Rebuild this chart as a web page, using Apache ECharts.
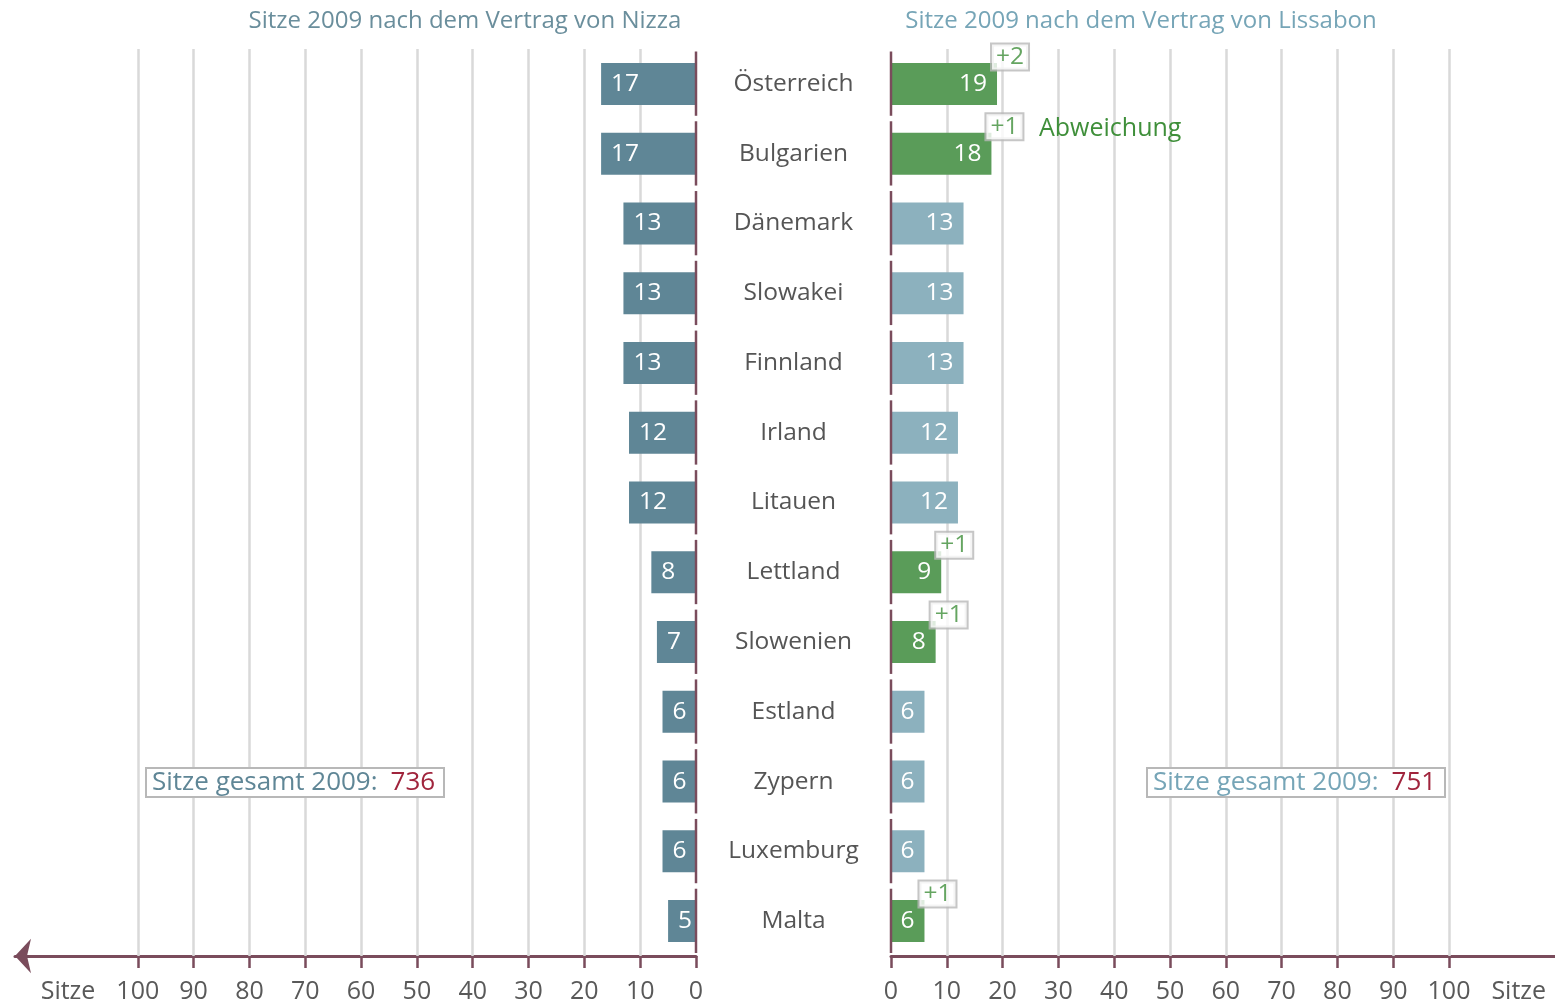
<!DOCTYPE html>
<html>
<head>
<meta charset="utf-8">
<script src="https://cdn.jsdelivr.net/npm/echarts@6/dist/echarts.min.js"></script>
<style>
html,body{margin:0;padding:0;background:#fff;}
#chart{width:1555px;height:1005px;}
</style>
</head>
<body>
<div id="chart"></div>
<script>
const categories = ['Österreich','Bulgarien','Dänemark','Slowakei','Finnland','Irland','Litauen','Lettland','Slowenien','Estland','Zypern','Luxemburg','Malta'];
const nizza = [17,17,13,13,13,12,12,8,7,6,6,6,5];
const lissabon = [19,18,13,13,13,12,12,9,8,6,6,6,6];
const tickValues = [0,10,20,30,40,50,60,70,80,90,100];
const gridValues = [10,20,30,40,50,60,70,80,90,100];
const axisName = 'Sitze';
const titleLeft = 'Sitze 2009 nach dem Vertrag von Nizza';
const titleRight = 'Sitze 2009 nach dem Vertrag von Lissabon';
const totalLabel = 'Sitze gesamt 2009:';
const totalNizza = 736;
const totalLissabon = 751;
const legendText = 'Abweichung';

const FONT = '"Open Sans", sans-serif';
const AXIS_COLOR = '#7a4c5c';
const GRID_COLOR = '#d9d9d9';
const LEFT_BAR = '#5f8696';
const RIGHT_BAR = '#8cb1be';
const GREEN_BAR = '#5a9c59';
const GREEN_TEXT = '#3f8f3a';

const diffs = lissabon.map((v,i)=>v-nizza[i]);

function zeroLineSeries(xi){
  return {
    type:'custom', xAxisIndex:xi, yAxisIndex:xi, z:5, silent:true,
    encode:{x:0,y:1},
    data: categories.map((c,i)=>[0,i]),
    renderItem(params, api){
      const p = api.coord([0, api.value(1)]);
      const h = api.size([0,1])[1];
      return {type:'line', shape:{x1:p[0], y1:p[1]-h/2+2.5, x2:p[0], y2:p[1]+h/2-3}, style:{stroke:AXIS_COLOR, lineWidth:2.5}};
    }
  };
}
function gridLineSeries(xi){
  return {
    type:'line', xAxisIndex:xi, yAxisIndex:xi, data:[], z:1, silent:true,
    markLine:{silent:true, z:1, symbol:'none', label:{show:false},
      lineStyle:{color:GRID_COLOR, width:2.5, type:'solid'},
      data: gridValues.map(v=>({xAxis:v}))}
  };
}
function xAxisCommon(extra){
  return Object.assign({
    type:'value', min:0, interval:10,
    axisLine:{show:true, lineStyle:{color:AXIS_COLOR, width:3}},
    axisTick:{show:true, customValues:tickValues, length:12, lineStyle:{color:AXIS_COLOR, width:2.5}},
    axisLabel:{show:true, customValues:tickValues.concat([112.5]), margin:23, color:'#595959', fontSize:25, fontFamily:FONT,
      formatter:v=> v>100 ? axisName : String(v)},
    splitLine:{show:false}
  }, extra);
}
function totalBox(left, labelColor, total){
  return {text:'{a|'+totalLabel+'}{b|'+total+'}', left:left, top:766, padding:[2,9,2,6], borderColor:'#b8b8b8', borderWidth:2, backgroundColor:'#fff',
    textStyle:{fontWeight:'normal', rich:{
      a:{color:labelColor, fontSize:26, lineHeight:29, fontWeight:'normal', fontFamily:FONT},
      b:{color:'#a0243c', fontSize:26, lineHeight:29, fontWeight:'normal', fontFamily:FONT, padding:[0,0,0,13]}}}};
}

const chart = echarts.init(document.getElementById('chart'));
chart.setOption({
  backgroundColor:'#fff',
  animation:false,
  title:[
    {text:titleLeft, left:460, top:4, textAlign:'center', textStyle:{color:'#6a8e9c', fontSize:24, fontWeight:'normal', fontFamily:FONT}},
    {text:titleRight, left:1136, top:4, textAlign:'center', textStyle:{color:'#76a5b7', fontSize:24, fontWeight:'normal', fontFamily:FONT}},
    totalBox(146, '#5f8696', totalNizza),
    totalBox(1147, '#76a5b7', totalLissabon)
  ],
  graphic:[
    {type:'text', left:1039, top:116, z:100, style:{text:legendText, fill:GREEN_TEXT, fontSize:25, fontFamily:FONT}}
  ],
  grid:[
    {left:15, width:681, top:49, bottom:49},
    {left:891, width:664, top:49, bottom:49}
  ],
  xAxis:[
    xAxisCommon({gridIndex:0, max:122, inverse:true, axisLine:{show:true, symbol:['arrow','none'], symbolSize:[26,16], lineStyle:{color:AXIS_COLOR, width:3}}}),
    xAxisCommon({gridIndex:1, max:119})
  ],
  yAxis:[
    {type:'category', gridIndex:0, data:categories, inverse:true, axisLine:{show:false}, axisTick:{show:false}, axisLabel:{show:false}, splitLine:{show:false}},
    {type:'category', gridIndex:1, data:categories, inverse:true, axisLine:{show:false}, axisTick:{show:false}, splitLine:{show:false},
      axisLabel:{show:true, align:'center', margin:97.5, color:'#555', fontSize:24.5, fontFamily:FONT, padding:[4,0,0,0]}}
  ],
  series:[
    gridLineSeries(0),
    gridLineSeries(1),
    {type:'bar', xAxisIndex:0, yAxisIndex:0, data:nizza, barWidth:42, z:3, silent:true,
      itemStyle:{color:LEFT_BAR},
      label:{show:true, position:'insideLeft', distance:10, color:'#fff', fontSize:24.5, fontFamily:FONT, padding:[3,0,0,0]}},
    {type:'bar', xAxisIndex:1, yAxisIndex:1, barWidth:42, z:3, silent:true,
      data: lissabon.map((v,i)=>({value:v, itemStyle:{color: diffs[i]>0 ? GREEN_BAR : RIGHT_BAR}})),
      label:{show:true, position:'insideRight', distance:10, color:'#fff', fontSize:24.5, fontFamily:FONT, padding:[3,0,0,0]}},
    zeroLineSeries(0),
    zeroLineSeries(1),
    {type:'scatter', xAxisIndex:1, yAxisIndex:1, symbolSize:0, z:6, silent:true,
      data: lissabon.map((v,i)=> diffs[i]>0 ? [v, i, diffs[i]] : null).filter(d=>d),
      label:{show:true, position:'inside', offset:[13,-27], formatter:p=>'+'+p.data[2],
        color:GREEN_TEXT, fontSize:24.5, fontFamily:FONT, backgroundColor:'#fff', borderColor:'#b8b8b8', borderWidth:2, padding:[0,4,-1,4], lineHeight:26}}
  ]
});
</script>
</body>
</html>
